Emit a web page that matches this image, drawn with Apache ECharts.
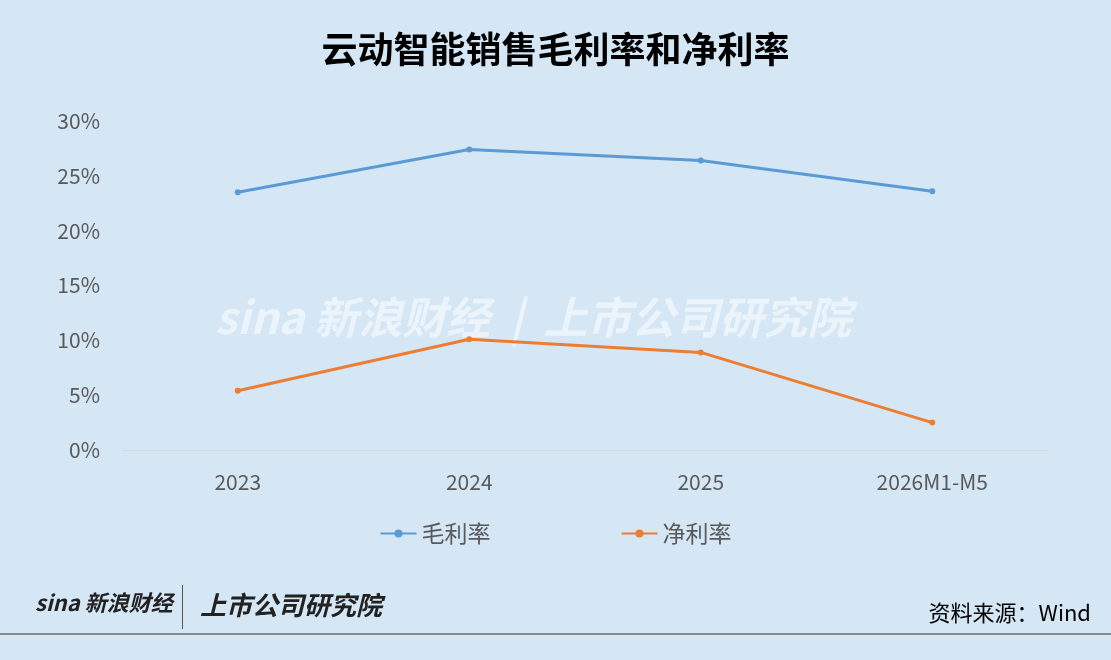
<!DOCTYPE html>
<html><head><meta charset="utf-8">
<script src="https://cdn.jsdelivr.net/npm/echarts@6/dist/echarts.min.js"></script>
<style>html,body{margin:0;padding:0;background:#d5e6f5}#c{width:1111px;height:660px}</style>
</head><body><div id="c"></div>
<script>
const categories = ['2023', '2024', '2025', '2026M1-M5'];
const grossMargin = [23.5, 27.4, 26.4, 23.6];
const netMargin = [5.4, 10.1, 8.9, 2.5];
const yTicks = [0, 5, 10, 15, 20, 25, 30];

const chart = echarts.init(document.getElementById('c'));
const font = '"Noto Sans CJK SC", sans-serif';
chart.setOption({
    backgroundColor: '#d5e6f5',
    title: {
        text: '云动智能销售毛利率和净利率', left: 'center', top: 26,
        textStyle: {fontFamily: font, fontSize: 36, fontWeight: 'bold', color: '#000'}
    },
    legend: {
        bottom: 110, itemGap: 130, itemWidth: 36, itemHeight: 10,
        textStyle: {fontFamily: font, fontSize: 23, color: '#595959'},
        data: ['毛利率', '净利率']
    },
    grid: {left: 122, right: 63, top: 121, bottom: 210},
    xAxis: {
        type: 'category', data: categories,
        axisLine: {lineStyle: {color: '#d9d9d9'}}, axisTick: {show: false},
        axisLabel: {fontFamily: font, fontSize: 21, color: '#595959', margin: 22}
    },
    yAxis: {
        type: 'value', min: yTicks[0], max: yTicks[yTicks.length - 1], interval: 5,
        splitLine: {show: false},
        axisLabel: {fontFamily: font, fontSize: 21, color: '#595959', formatter: '{value}%', margin: 22}
    },
    series: [
        {name: '毛利率', type: 'line', data: grossMargin, symbol: 'circle', symbolSize: 6,
         lineStyle: {width: 3, color: '#5b9bd5'}, itemStyle: {color: '#5b9bd5'}},
        {name: '净利率', type: 'line', data: netMargin, symbol: 'circle', symbolSize: 6,
         lineStyle: {width: 3, color: '#ed7d31'}, itemStyle: {color: '#ed7d31'}}
    ],
    graphic: [
        {type: 'text', left: 35, top: 592, style: {text: 'sina 新浪财经', font: 'bold italic 22px ' + font, fill: '#222'}},
        {type: 'rect', shape: {x: 182, y: 585, width: 1, height: 44}, style: {fill: '#555'}},
        {type: 'text', left: 200, top: 592, style: {text: '上市公司研究院', font: 'bold italic 26px ' + font, fill: '#222'}},
        {type: 'text', right: 20, top: 602, style: {text: '资料来源：Wind', font: '22px ' + font, fill: '#000'}},
        {type: 'rect', shape: {x: 0, y: 633, width: 1111, height: 2}, style: {fill: '#888'}},
        {type: 'text', left: 215, top: 295, style: {text: 'sina 新浪财经  |  上市公司研究院', font: 'bold italic 44px ' + font, fill: 'rgba(255,255,255,0.55)'}}
    ]
});
</script></body></html>
